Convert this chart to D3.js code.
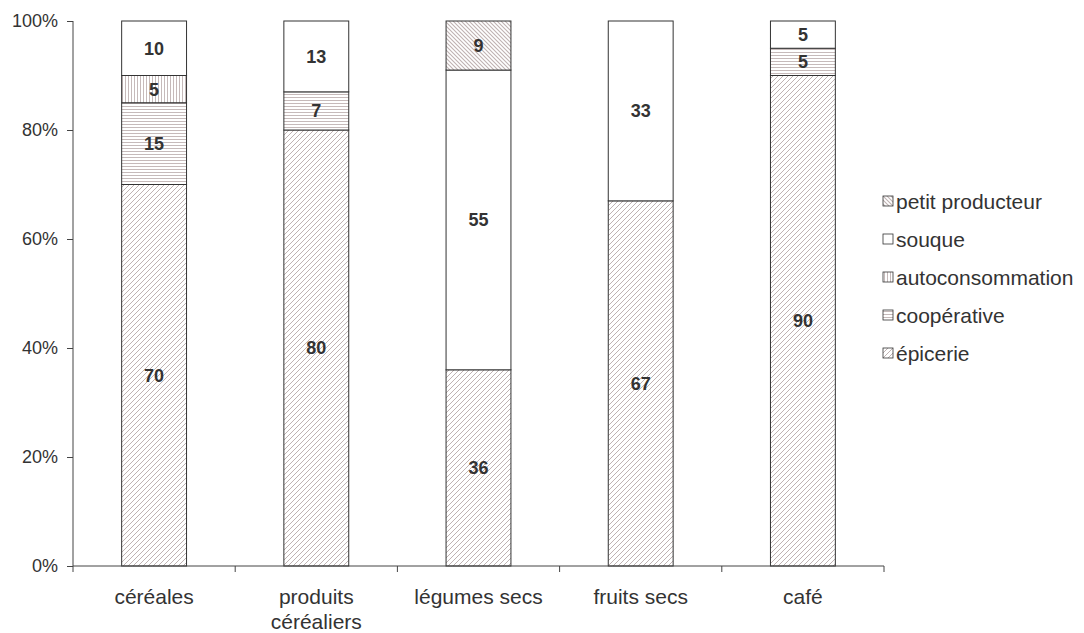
<!DOCTYPE html>
<html>
<head>
<meta charset="utf-8">
<script src="https://cdn.jsdelivr.net/npm/d3@7"></script>
<style>
  body { margin: 0; background: #fff; }
  svg { font-family: 'Liberation Sans', Arial, sans-serif; }
</style>
</head>
<body>
<svg id="chart"></svg>
<script>
'use strict';

const categories = ['céréales', 'produits céréaliers', 'légumes secs', 'fruits secs', 'café'];
const seriesNames = ['épicerie', 'coopérative', 'autoconsommation', 'souque', 'petit producteur'];
const epicerie = [70, 80, 36, 67, 90];
const cooperative = [15, 7, 0, 0, 5];
const autoconsommation = [5, 0, 0, 0, 0];
const souque = [10, 13, 55, 33, 5];
const petitProducteur = [0, 0, 9, 0, 0];
const yTicks = [0, 20, 40, 60, 80, 100];

const W = 1084, H = 633;
const margin = { top: 21, right: 200, bottom: 67, left: 73 };
const width = 884 - margin.left;
const height = 566 - margin.top;

const svg = d3.select('#chart').attr('width', W).attr('height', H);
const defs = svg.append('defs');
const hatch = '#bfb2b2';

function pattern(id, size, draw) {
  const p = defs.append('pattern')
    .attr('id', id)
    .attr('patternUnits', 'userSpaceOnUse')
    .attr('width', size).attr('height', size);
  p.append('rect').attr('width', size).attr('height', size).attr('fill', '#fff');
  draw(p);
}

// forward diagonal
pattern('p-epicerie', 5, p => {
  p.append('path').attr('d', 'M-1,1 L1,-1 M0,5 L5,0 M4,6 L6,4')
    .attr('stroke', hatch).attr('stroke-width', 1);
});
pattern('p-coop', 3, p => {
  p.append('line').attr('x1', 0).attr('x2', 3).attr('y1', 1.5).attr('y2', 1.5)
    .attr('stroke', hatch).attr('stroke-width', 0.9);
});
pattern('p-auto', 3, p => {
  p.append('line').attr('y1', 0).attr('y2', 3).attr('x1', 1.5).attr('x2', 1.5)
    .attr('stroke', hatch).attr('stroke-width', 0.9);
});
pattern('p-petit', 4, p => {
  p.append('path').attr('d', 'M-1,3 L1,5 M0,0 L4,4 M3,-1 L5,1')
    .attr('stroke', hatch).attr('stroke-width', 1.1);
});

const fills = ['url(#p-epicerie)', 'url(#p-coop)', 'url(#p-auto)', '#fff', 'url(#p-petit)'];

const table = categories.map((c, i) => ({
  cat: c,
  'épicerie': epicerie[i],
  'coopérative': cooperative[i],
  'autoconsommation': autoconsommation[i],
  'souque': souque[i],
  'petit producteur': petitProducteur[i]
}));

const stacked = d3.stack().keys(seriesNames)(table);

const xb = d3.scaleBand().domain(categories).range([0, width]);
const y = d3.scaleLinear().domain([0, 100]).range([height, 0]);
const barW = xb.bandwidth() * 0.4;

const g = svg.append('g').attr('transform', 'translate(' + margin.left + ',' + margin.top + ')');

const layers = g.selectAll('.layer')
  .data(stacked)
  .join('g')
  .attr('class', 'layer')
  .attr('fill', (d, i) => fills[i]);

layers.selectAll('rect')
  .data(d => d.filter(s => s[1] - s[0] > 0))
  .join('rect')
  .attr('x', d => xb(d.data.cat) + xb.bandwidth() / 2 - barW / 2)
  .attr('width', barW)
  .attr('y', d => y(d[1]))
  .attr('height', d => y(d[0]) - y(d[1]))
  .attr('stroke', '#333')
  .attr('stroke-width', 1);

layers.selectAll('text')
  .data(d => d.filter(s => s[1] - s[0] > 0))
  .join('text')
  .attr('x', d => xb(d.data.cat) + xb.bandwidth() / 2)
  .attr('y', d => (y(d[0]) + y(d[1])) / 2)
  .attr('dy', '0.36em')
  .attr('text-anchor', 'middle')
  .attr('fill', '#333')
  .attr('font-weight', 'bold')
  .attr('font-size', 18)
  .text(d => d[1] - d[0]);

// y axis
const yAxis = g.append('g')
  .call(d3.axisLeft(y).tickValues(yTicks).tickFormat(d => d + '%').tickSize(6).tickPadding(9));
yAxis.selectAll('text').attr('font-size', 18).attr('fill', '#333').attr('font-family', 'Liberation Sans, Arial, sans-serif');
yAxis.selectAll('line, path').attr('stroke', '#444');
yAxis.select('.domain').attr('d', 'M0,' + height + 'V0');

// x axis
const xAxis = g.append('g').attr('transform', 'translate(0,' + height + ')');
xAxis.append('line').attr('x1', 0).attr('x2', width).attr('stroke', '#444');
xAxis.selectAll('.tk')
  .data(d3.range(categories.length + 1))
  .join('line')
  .attr('class', 'tk')
  .attr('x1', i => i * xb.step()).attr('x2', i => i * xb.step())
  .attr('y1', 0).attr('y2', 6)
  .attr('stroke', '#444');

const xLabels = xAxis.selectAll('.lbl')
  .data(categories)
  .join('text')
  .attr('class', 'lbl')
  .attr('x', d => xb(d) + xb.bandwidth() / 2)
  .attr('y', 38)
  .attr('text-anchor', 'middle')
  .attr('font-size', 21)
  .attr('fill', '#333');
xLabels.each(function (d) {
  const lines = d === 'produits céréaliers' ? ['produits', 'céréaliers'] : [d];
  d3.select(this).selectAll('tspan')
    .data(lines)
    .join('tspan')
    .attr('x', xb(d) + xb.bandwidth() / 2)
    .attr('dy', (l, i) => i === 0 ? 0 : 25)
    .text(l => l);
});

// legend (top entry is last series)
const legendOrder = seriesNames.map((n, i) => ({ name: n, fill: fills[i] })).reverse();
const legend = svg.append('g').attr('transform', 'translate(883,196)');
const items = legend.selectAll('g')
  .data(legendOrder)
  .join('g')
  .attr('transform', (d, i) => 'translate(0,' + (i * 38) + ')');
items.append('rect')
  .attr('width', 10).attr('height', 10)
  .attr('fill', d => d.fill)
  .attr('stroke', '#333').attr('stroke-width', 0.8);
items.append('text')
  .attr('x', 13).attr('y', 5).attr('dy', '0.36em')
  .attr('font-size', 21).attr('fill', '#333')
  .text(d => d.name);
</script>
</body>
</html>
